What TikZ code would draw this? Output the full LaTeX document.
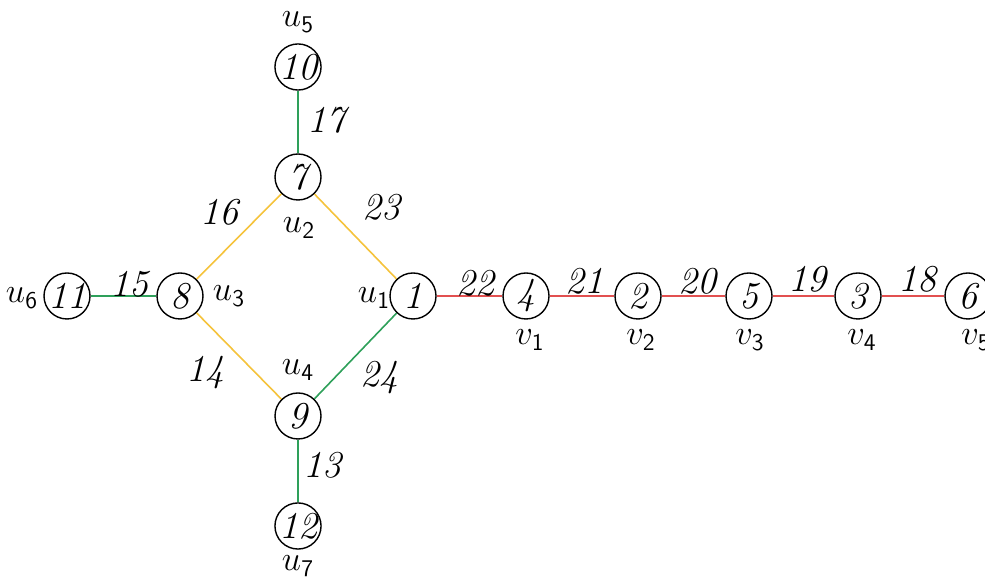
\documentclass[tikz,border=0pt]{standalone}
\usepackage{amsmath}
\begin{document}
\begin{tikzpicture}[x=0.5pt,y=-0.5pt,
  vert/.style={circle,draw=black,line width=0.7pt,minimum size=23pt,inner sep=0pt,font=\fontsize{19}{21}\selectfont\itshape},
  elab/.style={font=\fontsize{19}{21}\selectfont\itshape,inner sep=0pt},
  vlab/.style={font=\fontsize{18}{20}\selectfont,inner sep=0pt},
  ge/.style={draw={rgb,255:red,46;green,160;blue,90},line width=0.8pt},
  ye/.style={draw={rgb,255:red,245;green,195;blue,60},line width=0.8pt},
  re/.style={draw={rgb,255:red,226;green,80;blue,80},line width=0.8pt}]
\useasboundingbox (0,0) rectangle (985,581);
\node[vert] (n10) at (298,67) {10};
\node[vert] (n7) at (298,177) {7};
\node[vert] (n8) at (180,296) {8};
\node[vert] (n11) at (67,296) {11};
\node[vert] (n1) at (413,296) {1};
\node[vert] (n9) at (298,416) {9};
\node[vert] (n12) at (298,526) {12};
\node[vert] (n4) at (526,296) {4};
\node[vert] (n2) at (638,296) {2};
\node[vert] (n5) at (749,296) {5};
\node[vert] (n3) at (858,296) {3};
\node[vert] (n6) at (968,296) {6};
\draw[ge] (n10) -- (n7);
\draw[ye] (n7) -- (n8);
\draw[ye] (n7) -- (n1);
\draw[ge] (n8) -- (n11);
\draw[ye] (n8) -- (n9);
\draw[ge] (n1) -- (n9);
\draw[ge] (n9) -- (n12);
\draw[re] (n1) -- (n4);
\draw[re] (n4) -- (n2);
\draw[re] (n2) -- (n5);
\draw[re] (n5) -- (n3);
\draw[re] (n3) -- (n6);
\node[elab] (l17) at (326,120) {17};
\node[elab] (l16) at (219,212) {16};
\node[elab] (l23) at (381,207) {23};
\node[elab] (l15) at (129,284) {15};
\node[elab] (l14) at (205,373) {14};
\node[elab] (l24) at (379,378) {24};
\node[elab] (l13) at (322,465) {13};
\node[elab] (l22) at (475,283) {22};
\node[elab] (l21) at (584,281) {21};
\node[elab] (l20) at (697,281) {20};
\node[elab] (l19) at (807,279) {19};
\node[elab] (l18) at (917,279) {18};
\node[vlab] (u5) at (298,22) {$u_{\mathsf{5}}$};
\node[vlab] (u2) at (299,228) {$u_{\mathsf{2}}$};
\node[vlab] (u3) at (229,296) {$u_{\mathsf{3}}$};
\node[vlab] (u6) at (22,298) {$u_{\mathsf{6}}$};
\node[vlab] (u1) at (374,298) {$u_{\mathsf{1}}$};
\node[vlab] (u4) at (298,370) {$u_{\mathsf{4}}$};
\node[vlab] (u7) at (298,566) {$u_{\mathsf{7}}$};
\node[vlab] (v1) at (530,340) {$v_{\mathsf{1}}$};
\node[vlab] (v2) at (641,340) {$v_{\mathsf{2}}$};
\node[vlab] (v3) at (750,340) {$v_{\mathsf{3}}$};
\node[vlab] (v4) at (862,340) {$v_{\mathsf{4}}$};
\node[vlab] (v5) at (976,340) {$v_{\mathsf{5}}$};
\end{tikzpicture}
\end{document}
